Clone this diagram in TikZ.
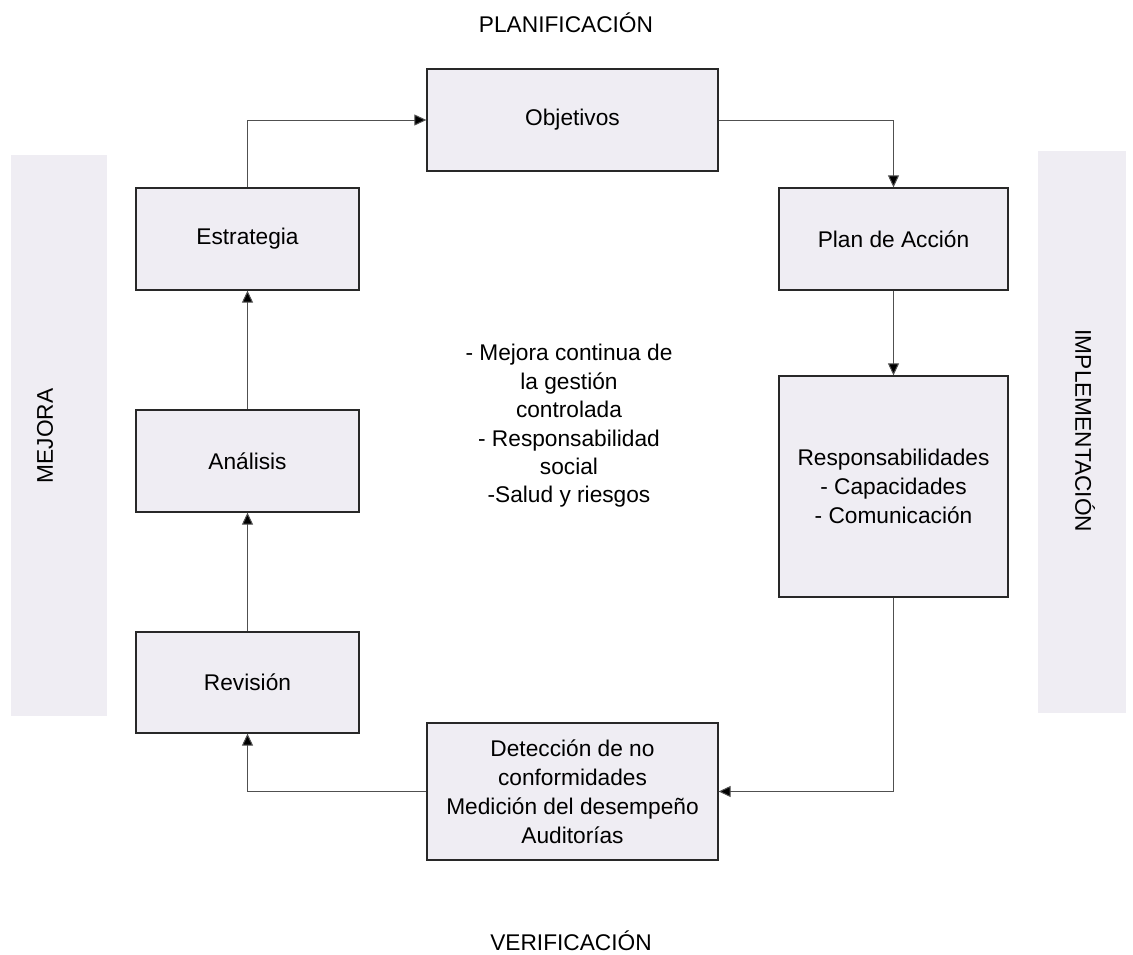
\documentclass[tikz,border=0pt]{standalone}
\usepackage{fontspec}
\setmainfont{Liberation Sans}
\usetikzlibrary{arrows.meta}
\definecolor{boxfill}{RGB}{239,237,243}
\definecolor{boxline}{RGB}{40,40,40}
\definecolor{linkline}{RGB}{80,80,80}
\begin{document}
\begin{tikzpicture}[x=1pt,y=-1pt,
  every node/.style={font=\fontsize{22.7}{29}\selectfont, text=black},
  stepbox/.style={draw=boxline, line width=1.3pt, fill=boxfill, rectangle,
    inner sep=0pt, align=center},
  band/.style={fill=boxfill, draw=none},
  link/.style={draw=linkline, line width=1pt,
    -{Triangle[length=12pt,width=11pt,fill=black]}},
  plain/.style={inner sep=0pt, align=center}]
  \useasboundingbox (0,0) rectangle (1133,954);

  % side bands
  \fill[band] (11,155) rectangle (107,716);
  \fill[band] (1038,151) rectangle (1126,713);
  \node[plain, rotate=90] (mejora) at (45,436) {MEJORA};
  \node[plain, rotate=-90] (impl) at (1085,431) {IMPLEMENTACIÓN};

  % phase titles
  \node[plain] (plan) at (566,23) {PLANIFICACIÓN};
  \node[plain] (verif) at (571,941) {VERIFICACIÓN};

  % process boxes
  \node[stepbox, minimum width=291pt, minimum height=102pt] (obj) at (572.5,120) {Objetivos};
  \node[stepbox, minimum width=229pt, minimum height=102pt] (accion) at (893.5,239) {Plan de Acción};
  \node[stepbox, minimum width=229pt, minimum height=221pt] (resp) at (893.5,486.5)
    {Responsabilidades\\- Capacidades\\- Comunicación};
  \node[stepbox, minimum width=291pt, minimum height=137pt] (det) at (572.5,791.5)
    {Detección de no\\conformidades\\Medición del desempeño\\Auditorías};
  \node[stepbox, minimum width=223pt, minimum height=101pt] (rev) at (247.5,682.5) {Revisión};
  \node[stepbox, minimum width=223pt, minimum height=102pt] (ana) at (247.5,461) {Análisis};
  \node[stepbox, minimum width=223pt, minimum height=102pt] (est) at (247.5,239) {Estrategia};

  % central note
  \node[plain, font=\fontsize{22.7}{28.4}\selectfont] (nota) at (569,426)
    {- Mejora continua de\\la gestión\\controlada\\- Responsabilidad\\social\\-Salud y riesgos};

  % cycle connectors
  \draw[link] (est.north) |- (obj.west);
  \draw[link] (obj.east) -| (accion.north);
  \draw[link] (accion.south) -- (resp.north);
  \draw[link] (resp.south) |- (det.east);
  \draw[link] (det.west) -| (rev.south);
  \draw[link] (rev.north) -- (ana.south);
  \draw[link] (ana.north) -- (est.south);
\end{tikzpicture}
\end{document}
